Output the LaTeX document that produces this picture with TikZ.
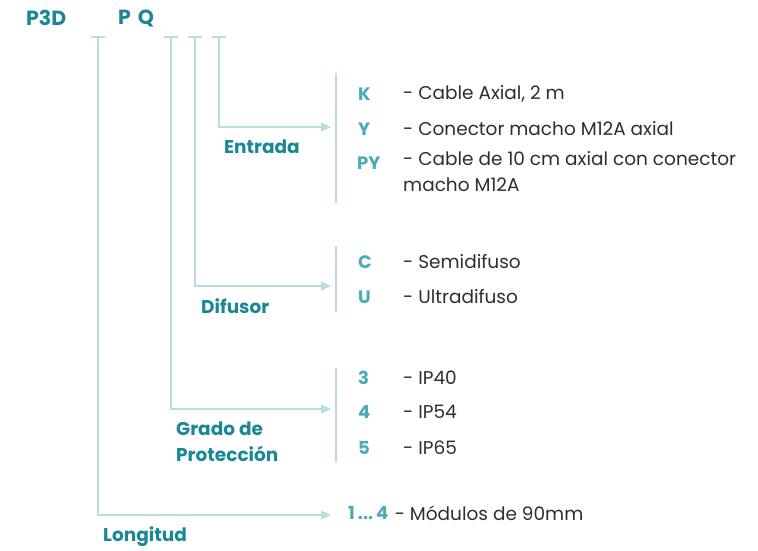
\documentclass[tikz,border=0pt]{standalone}
\usepackage{fontspec}
\setmainfont{Poppins}
\usetikzlibrary{arrows.meta}
\usetikzlibrary{positioning}
\definecolor{titleteal}{HTML}{1A8797}
\definecolor{codeteal}{HTML}{4DAAB8}
\definecolor{linecol}{HTML}{B8DDE3}
\definecolor{desctext}{HTML}{2E2E2E}
\tikzset{title/.style = {text = titleteal, font = \bfseries\fontsize{18.5}{26}\selectfont, inner sep = 0, anchor = west},
  code/.style = {text = codeteal, font = \bfseries\fontsize{18}{22}\selectfont, inner sep = 0, anchor = west},
  desc/.style = {text = desctext, font = \fontsize{18.5}{26}\selectfont, inner sep = 0, anchor = west, align = left},
  lead/.style = {draw = linecol, line width = 1.2pt},
  feed/.style = {draw = linecol, line width = 1.2pt, -{Triangle[length = 10pt, width = 9pt]}}}

\begin{document}
\begin{tikzpicture}[x = 1pt, y = -1pt]
      \useasboundingbox (0, 0) rectangle (758, 550);
      % heading
      \node [title, font = \bfseries\fontsize{20.5}{24}\selectfont] (p3d) at (26, 18) {P3D};
      \node [title, font = \bfseries\fontsize{20.5}{24}\selectfont] (pq) at (118, 18) {P\hspace{7pt}Q};
      % top ticks
      \coordinate (lentop) at (98, 37);
      \coordinate (iptop) at (171, 37);
      \coordinate (diftop) at (195, 37);
      \coordinate (enttop) at (219, 37);
      \foreach \xx in {98, 171, 195, 219}
        \draw [lead] (\xx - 7, 37) -- (\xx + 7, 37);
      % brackets on the right
      \draw [lead] (336, 73) -- (336, 203);
      \draw [lead] (336, 246) -- (336, 312);
      \draw [lead] (336, 368) -- (336, 462);
      % Entrada
      \coordinate (entend) at (331, 127);
      \draw [feed] (enttop) |- (entend);
      \node [title] (entrada) at (224, 147) {Entrada};
      \node [code] (k) at (358, 94) {K};
      \node [desc] (kdesc) at (403, 94) {- Cable Axial, 2 m};
      \node [code] (y) at (358, 129) {Y};
      \node [desc] (ydesc) at (403, 129) {- Conector macho M12A axial};
      \node [code] (py) at (357, 163) {PY};
      \node [desc, anchor = north west] (pydesc) at (403, 151) {- Cable de 10 cm axial con conector\\macho M12A};
      % Difusor
      \coordinate (difend) at (331, 286);
      \draw [feed] (diftop) |- (difend);
      \node [title] (difusor) at (201, 306) {Difusor};
      \node [code] (c) at (358, 262) {C};
      \node [desc] (cdesc) at (403, 262) {- Semidifuso};
      \node [code] (u) at (358, 297) {U};
      \node [desc] (udesc) at (403, 297) {- Ultradifuso};
      % Grado de Proteccion
      \coordinate (ipend) at (331, 409);
      \draw [feed] (iptop) |- (ipend);
      \node [title, align = left] (grado) at (176, 442) {Grado de\\Protección};
      \node [code] (n3) at (358, 378) {3};
      \node [desc] (n3desc) at (403, 378) {- IP40};
      \node [code] (n4) at (358, 412) {4};
      \node [desc] (n4desc) at (403, 412) {- IP54};
      \node [code] (n5) at (358, 448) {5};
      \node [desc] (n5desc) at (403, 448) {- IP65};
      % Longitud
      \coordinate (lenend) at (331, 515);
      \draw [feed] (lentop) |- (lenend);
      \node [title] (longitud) at (103, 537) {Longitud};
      \node [code] (range) at (348, 513) {1\,...\,4};
      \node [desc, right = 6pt of range] (rangedesc) {- Módulos de 90mm};
    \end{tikzpicture}
\end{document}
